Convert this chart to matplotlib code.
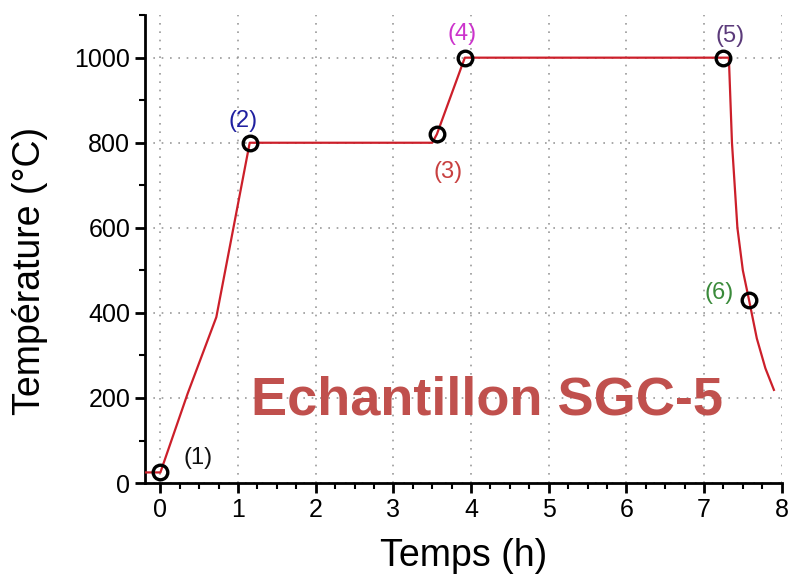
import numpy as np
import matplotlib
matplotlib.use("Agg")
from matplotlib import pyplot as plt
from matplotlib.ticker import MultipleLocator

plt.rcParams['font.family'] = ['Liberation Sans', 'DejaVu Sans']

# temperature profile (h, degC)
temps_h = [-0.2, 0.0, 0.35, 0.72, 1.15, 3.50, 3.56, 3.92, 7.32, 7.36, 7.43, 7.50, 7.58, 7.68, 7.79, 7.90]
temp_c = [25, 25, 210, 390, 800, 800, 820, 1000, 1000, 800, 600, 500, 430, 340, 270, 219]

# marked points
pts_x = [0.0, 1.15, 3.56, 3.92, 7.24, 7.58]
pts_y = [25, 800, 820, 1000, 1000, 430]
pts_lbl = ['(1)', '(2)', '(3)', '(4)', '(5)', '(6)']
pts_col = ['#111111', '#2020a0', '#c84040', '#cc33cc', '#5b3a7a', '#3a8a3a']
lbl_x = [0.48, 1.07, 3.70, 3.89, 7.33, 7.20]
lbl_y = [59, 852, 732, 1056, 1052, 447]

fig = plt.figure(figsize=(7.96, 5.82), dpi=100)
ax = fig.add_axes([0.182, 0.170, 0.800, 0.804])

ax.plot(temps_h, temp_c, color='#cc1f2a', lw=1.6, zorder=3)
ax.plot(pts_x, pts_y, ls='none', marker='o', ms=10.5, mfc='none', mec='black', mew=2.4, zorder=4)

for x, y, t, c in zip(lbl_x, lbl_y, pts_lbl, pts_col):
    ax.text(x, y, t, color=c, fontsize=17, ha='center', va='center')

ax.text(4.2, 195, 'Echantillon SGC-5', color='#c0504d', fontsize=39, fontweight='bold',
        ha='center', va='center')

ax.set_xlim(-0.2, 8)
ax.set_ylim(0, 1100)
ax.xaxis.set_major_locator(MultipleLocator(1))
ax.xaxis.set_minor_locator(MultipleLocator(0.25))
ax.yaxis.set_major_locator(MultipleLocator(200))
ax.yaxis.set_minor_locator(MultipleLocator(100))
ax.set_yticks([0, 200, 400, 600, 800, 1000])

ax.grid(True, which='major', ls=(0, (1, 4)), color='#999999', lw=1.2)
for s in ['top', 'right']:
    ax.spines[s].set_visible(False)
for s in ['left', 'bottom']:
    ax.spines[s].set_linewidth(2)

ax.tick_params(which='major', length=7, width=2, labelsize=18, direction='out')
ax.tick_params(which='minor', length=4, width=1.5, direction='out')

ax.set_xlabel('Temps (h)', fontsize=27, labelpad=12)
ax.set_ylabel('Température (°C)', fontsize=27)
ax.yaxis.set_label_coords(-0.152, 0.453)

fig.savefig('out.png', dpi=100)
